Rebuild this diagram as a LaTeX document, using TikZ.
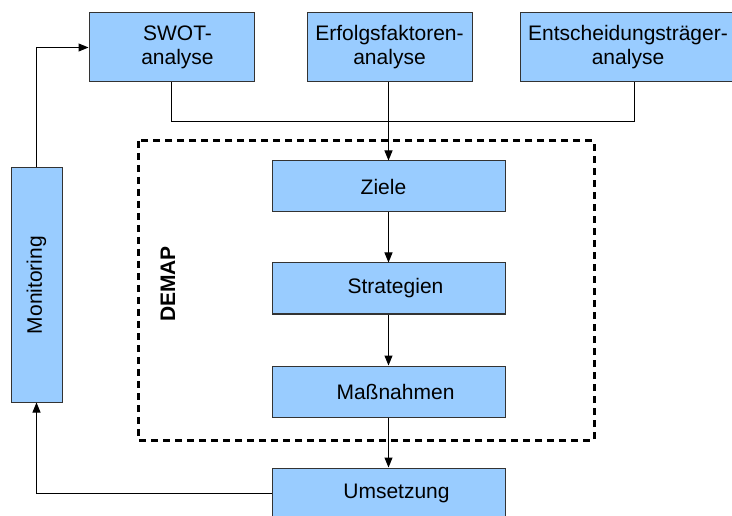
\documentclass[tikz,border=0pt]{standalone}
\usepackage{fontspec}
\setmainfont{Liberation Sans}
\usetikzlibrary{arrows.meta,calc}
\definecolor{boxfill}{HTML}{99CCFF}
\definecolor{boxdraw}{HTML}{333333}
\newcommand{\txtshift}[2]{\hspace*{#1}#2}
\begin{document}
\begin{tikzpicture}[x=1pt,y=-1pt,
  box/.style={draw=boxdraw,fill=boxfill,line width=1pt,inner sep=0pt,align=center,
    font=\fontsize{21}{24}\selectfont},
  conn/.style={draw=black,line width=1pt},
  arr/.style={conn,-{Triangle[length=10pt,width=8pt]}},
  frame/.style={draw=black,line width=3pt,dash pattern=on 7pt off 5pt}]
\useasboundingbox (0,0) rectangle (732,516);
% dashed DEMAP frame
\draw[frame] (138,141) rectangle (594,440);
\node[font=\fontsize{21}{24}\selectfont\bfseries,rotate=90] (demap) at (168,284) {DEMAP};
% top boxes
\node[box,minimum width=165pt,minimum height=69pt] (swot) at (171.5,47.5) {\txtshift{12pt}{SWOT-}\\\txtshift{12pt}{analyse}};
\node[box,minimum width=165pt,minimum height=69pt] (erf) at (389.5,47.5) {Erfolgsfaktoren-\\analyse};
\node[box,minimum width=216pt,minimum height=69pt] (ent) at (628,47.5) {Entscheidungsträger-\\analyse};
% central chain
\node[box,minimum width=233pt,minimum height=51pt] (ziele) at (388.5,186.5) {Ziele\hspace*{10pt}};
\node[box,minimum width=233pt,minimum height=51pt] (strat) at (388.5,288.5) {\txtshift{14pt}{Strategien}};
\node[box,minimum width=233pt,minimum height=51pt] (mass) at (388.5,391.5) {\txtshift{14pt}{Maßnahmen}};
\node[box,minimum width=233pt,minimum height=51pt] (ums) at (388.5,493.5) {\txtshift{16pt}{Umsetzung}};
% monitoring (rotated: west anchor is at the bottom, east at the top)
\node[box,minimum width=234pt,minimum height=51pt,rotate=90] (mon) at (36.5,285) {Monitoring};
% connectors
\draw[conn] (swot.south) -- ++(0,39) -| ([xshift=6pt]ent.south);
\draw[arr] (erf.south -| ziele.north) -- (ziele.north);
\draw[arr] (ziele) -- (strat);
\draw[arr] (strat) -- (mass);
\draw[arr] (mass) -- (ums);
\draw[arr] (ums.west) -| (mon.west);
\draw[arr] (mon.east) |- (swot.west);
\end{tikzpicture}
\end{document}
